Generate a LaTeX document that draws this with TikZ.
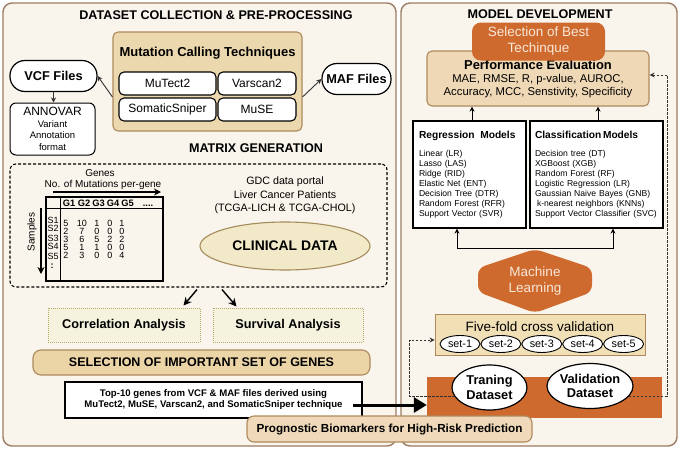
\documentclass[tikz,border=0pt]{standalone}
\usepackage{fontspec}
\setmainfont{Liberation Sans}
\usetikzlibrary{positioning,shapes.geometric,arrows.meta}
\definecolor{panelfill}{HTML}{FAF5EC}
\definecolor{panelline}{HTML}{9C7C64}
\definecolor{tanfill}{HTML}{EBD8AE}
\definecolor{tanline}{HTML}{AD8A5E}
\definecolor{pefill}{HTML}{EFD8B6}
\definecolor{selfill}{HTML}{EBD4A6}
\definecolor{cvfill}{HTML}{F1DFB6}
\definecolor{progfill}{HTML}{EFD9BA}
\definecolor{mlorange}{HTML}{CF6A2E}
\definecolor{mltext}{HTML}{F8E8D8}
\definecolor{anafill}{HTML}{F5F2DE}
\definecolor{analine}{HTML}{B4AA6A}
\definecolor{clinfill}{HTML}{F1E9C7}
\definecolor{clinline}{HTML}{A68B5B}
\definecolor{inkgray}{HTML}{333333}
\newcommand\fsz[2]{\fontsize{#1}{#2}\selectfont}

\begin{document}
\begin{tikzpicture}[x=1pt, y=-1pt, node distance=0pt]
  \tikzstyle{panel} = [draw=panelline, fill=panelfill, line width=1.4pt, rounded corners=9pt]
  \tikzstyle{headline} = [font=\fsz{12.6}{15}\bfseries, inner sep=0pt]
  \tikzstyle{tool} = [draw, line width=1.1pt, fill=white, rounded corners=5pt, minimum height=23pt, inner sep=0pt, font=\fsz{12}{14}]
  \tikzstyle{filepill} = [draw, line width=1.2pt, fill=white, rounded corners=15pt, minimum height=31pt, inner sep=0pt, font=\fsz{12.8}{15}\bfseries]
  \tikzstyle{anabox} = [draw=analine, fill=anafill, line width=1pt, dash pattern=on 1pt off 1pt, minimum width=152pt, minimum height=34pt, font=\fsz{12.7}{15}\bfseries]
  \tikzstyle{tanbar} = [draw=tanline, line width=1.1pt, rounded corners=8pt, inner sep=0pt]
  \tikzstyle{modelbox} = [draw, line width=1.2pt, fill=white, align=left, inner ysep=0pt, minimum height=107pt, font=\fsz{8.6}{10}]
  \tikzstyle{setoval} = [ellipse, draw, line width=0.9pt, fill=white, minimum width=40pt, minimum height=17pt, inner sep=0pt, font=\fsz{10.8}{12}]
  \tikzstyle{dataoval} = [ellipse, draw, line width=1.2pt, fill=white, inner sep=0pt, minimum height=45pt, align=center, font=\fsz{12.8}{14.5}\bfseries]
  \tikzstyle{cell} = [inner sep=0pt, font=\fsz{9}{10}]
  \tikzstyle{link} = [draw=inkgray, line width=0.9pt, -{Stealth[length=5pt,width=5pt]}]
  \tikzstyle{bigarrow} = [line width=1.4pt, -{Stealth[length=8pt,width=8pt]}]
  \tikzstyle{dashlink} = [draw=inkgray, line width=0.9pt, dash pattern=on 2.5pt off 1.5pt, -{Stealth[length=5pt,width=5pt]}]

  \useasboundingbox (0,0) rectangle (680,450);
  \draw[panel] (3,3) rectangle (396,446);
  \draw[panel] (401,3) rectangle (677,446);

  \node[headline] (dctitle) at (216,15) {DATASET COLLECTION \& PRE-PROCESSING};
  \node[headline] (mdtitle) at (540,14) {MODEL DEVELOPMENT};
  \node[headline] (mgtitle) at (256,148) {MATRIX GENERATION};

  \node[tanbar, fill=tanfill, rounded corners=5pt, minimum width=189pt, minimum height=99pt] (mutbox) at (207.5,81.5) {};
  \node[inner sep=0pt, font=\fsz{13}{15}\bfseries] (mutttl) at (207.5,53) {Mutation Calling Techniques};
  \node[tool, minimum width=97pt] (mutect) at (167.5,83.5) {MuTect2};
  \node[tool, minimum width=78pt] (varscan) at (257,83.5) {Varscan2};
  \node[tool, minimum width=97pt] (sniper) at (167.5,109.5) {SomaticSniper};
  \node[tool, minimum width=78pt] (muse) at (257,109.5) {MuSE};

  \node[filepill, minimum width=87pt] (vcf) at (53.5,76) {VCF Files};
  \node[filepill, minimum width=69pt] (maf) at (356.5,79) {MAF Files};
  \node[draw, line width=1pt, fill=white, rounded corners=6pt, align=center, inner sep=0pt, minimum width=85pt, minimum height=52pt, font=\fsz{9.5}{11.5}] (annovar) at (52.5,129) {{\fsz{12}{14}ANNOVAR}\\Variant\\Annotation\\format};
  \draw[link] ([yshift=-15.5pt]mutbox.west) -- (vcf.east);
  \draw[link] ([yshift=-15.5pt]mutbox.east) -- (maf.west);
  \draw[link] (vcf.south) -- (vcf.south |- annovar.north);

  \node[draw, line width=1.1pt, dash pattern=on 3pt off 2pt, rounded corners=6pt, minimum width=377pt, minimum height=123pt] (mgen) at (198.5,225.5) {};
  \node[cell, font=\fsz{10}{12}] (genes) at (100,173) {Genes};
  \node[cell, font=\fsz{10}{12}] (permut) at (103,185) {No. of Mutations per-gene};
  \coordinate (gstart) at (53,192);
  \coordinate (gend) at (161,192);
  \draw[bigarrow, line width=1.2pt, -{Stealth[length=7pt,width=7pt]}] (gstart) -- (gend);
  \coordinate (sstart) at (41,208);
  \coordinate (send) at (41,274);
  \draw[bigarrow, line width=1.2pt, -{Stealth[length=7pt,width=7pt]}] (sstart) -- (send);
  \node[cell, font=\fsz{10}{12}, rotate=90] (samples) at (32,232) {Samples};
  \node[draw, line width=1.3pt, minimum width=117pt, minimum height=84pt, inner sep=0pt] (tbl) at (104.5,239) {};
  \draw[line width=1.3pt] ([yshift=-12pt]tbl.north west) -- ([yshift=-12pt]tbl.north east);
  \draw[line width=1.3pt] ([xshift=15pt]tbl.north west) -- ([xshift=15pt]tbl.south west);
  \foreach \g/\xx in {G1/69,G2/84,G3/98.5,G4/113,G5/127.5}
    \node[cell, anchor=base, font=\fsz{9.3}{11}\bfseries] (\g) at (\xx,206.5) {\g};
  \node[cell, anchor=base, font=\fsz{9.3}{11}\bfseries] (gdots) at (148,206.5) {....};
  \foreach \lab/\yy in {S1/220,S2/228.5,S3/238,S4/246,S5/256}
    \node[cell, anchor=west] (\lab) at (47.5,\yy) {\lab};
  \node[cell, font=\fsz{9}{10}\bfseries] (sdots) at (52,266) {:};
  \foreach \yy/\va/\vb/\vc/\vd/\ve [count=\r] in {223/5/10/1/0/1, 231/2/7/0/0/0, 239/3/6/5/2/2, 247/5/1/1/0/0, 255/2/3/0/0/4} {
    \node[cell] (v\r a) at (66,\yy) {\va};
    \node[cell] (v\r b) at (82,\yy) {\vb};
    \node[cell] (v\r c) at (97,\yy) {\vc};
    \node[cell] (v\r d) at (110,\yy) {\vd};
    \node[cell] (v\r e) at (122,\yy) {\ve};
  }
  \node[align=center, inner sep=0pt, font=\fsz{10.7}{13.5}] (gdc) at (285,195.5) {GDC data portal\\Liver Cancer Patients\\(TCGA-LICH \& TCGA-CHOL)};
  \node[ellipse, draw=clinline, fill=clinfill, line width=1.1pt, minimum width=170pt, minimum height=48pt, inner sep=0pt, font=\fsz{13.9}{16}\bfseries] (clin) at (285,246) {CLINICAL DATA};

  \node[anabox] (corr) at (124,325) {Correlation Analysis};
  \node[anabox, minimum width=150pt] (surv) at (288,325) {Survival Analysis};
  \draw[bigarrow] ([xshift=-1.5pt,yshift=-2pt]mgen.south) -- ([xshift=-17pt,yshift=2pt]corr.north east);
  \draw[bigarrow] ([xshift=23.5pt,yshift=-2pt]mgen.south) -- ([xshift=24pt,yshift=1pt]surv.north west);

  \node[tanbar, fill=selfill, minimum width=337pt, minimum height=25pt, font=\fsz{12.5}{15}\bfseries] (selgenes) at (201.5,362.5) {SELECTION OF IMPORTANT SET OF GENES};
  \node[draw, line width=1.1pt, fill=white, minimum width=297pt, minimum height=36pt, inner sep=0pt, align=center, font=\fsz{9.6}{11}\bfseries] (top10) at (213.5,400) {Top-10 genes from VCF \& MAF files derived using\\MuTect2, MuSE, Varscan2, and SomaticSniper technique};

  \node[tanbar, fill=pefill, rounded corners=5pt, minimum width=222pt, minimum height=55pt, align=center, font=\fsz{11.3}{13}] (pe) at (538,78.5) {{\fsz{12.9}{15}\bfseries Performance Evaluation}\\MAE, RMSE, R, p-value, AUROC,\\Accuracy, MCC, Senstivity, Specificity};
  \node[fill=mlorange, rounded corners=9pt, minimum width=133pt, minimum height=38pt, inner sep=0pt, align=center, text=mltext, font=\fsz{13.5}{16}] (best) at (538.5,41.5) {Selection of Best\\Techinque};

  \node[modelbox, minimum width=113pt, text width=101pt, inner xsep=6pt] (reg) at (469.5,174.5) {{\fsz{10.2}{12}\bfseries Regression\ \ Models}\\[8pt]Linear (LR)\\Lasso (LAS)\\Ridge (RID)\\Elastic Net (ENT)\\Decision Tree (DTR)\\Random Forest (RFR)\\Support Vector (SVR)};
  \node[modelbox, minimum width=133pt, text width=123pt, inner xsep=5pt] (cls) at (596.5,174.5) {{\fsz{10.2}{12}\bfseries Classification\,Models}\\[8pt]Decision tree (DT)\\XGBoost (XGB)\\Random Forest (RF)\\Logistic Regression (LR)\\Gaussian Naive Bayes (GNB)\\\hspace*{2pt}k-nearest neighbors (KNNs)\\Support Vector Classifier (SVC)};
  \draw[link, draw=black] ([xshift=2.5pt]reg.north) -- ([xshift=2.5pt]reg.north |- pe.south);
  \draw[link, draw=black] ([xshift=1.5pt]cls.north) -- ([xshift=1.5pt]cls.north |- pe.south);

  \fill[mlorange, rounded corners=7pt] (478,292) -- (478,268) -- (535,249) -- (592,268) -- (592,292) -- (535,313) -- cycle;
  \node[align=center, inner sep=0pt, text=mltext, font=\fsz{13.5}{15.5}] (ml) at (535,281) {Machine\\Learning};
  \coordinate (mltop) at (535,248);
  \draw[link, draw=black] (mltop) -| ([xshift=-12.5pt]reg.south);
  \draw[link, draw=black] (mltop) -| ([xshift=16.5pt]cls.south);

  \node[draw=tanline, fill=cvfill, line width=0.8pt, minimum width=210pt, minimum height=41pt, inner sep=0pt] (cv) at (540,334.5) {};
  \node[inner sep=0pt, font=\fsz{13.5}{15}] (cvtext) at (540,327) {Five-fold cross validation};
  \node[setoval] (s1) at (460,344) {set-1};
  \node[setoval, right=of s1] (s2) {set-2};
  \node[setoval, right=of s2] (s3) {set-3};
  \node[setoval, right=of s3] (s4) {set-4};
  \node[setoval, right=of s4] (s5) {set-5};

  \node[fill=mlorange, minimum width=235pt, minimum height=41pt, inner sep=0pt] (dset) at (544.5,397.5) {};
  \node[dataoval, minimum width=75pt] (train) at (489.5,387.5) {Traning\\Dataset};
  \node[dataoval, minimum width=86pt] (valid) at (590,386) {Validation\\Dataset};
  \draw[dashlink] (train.195) -- ++(-45,0) |- ([yshift=-5.5pt]cv.west);
  \draw[dashlink] (valid.345) -- ++(38.5,0) |- ([yshift=3.5pt]pe.east);

  \draw[line width=3pt, -{Triangle[length=13pt,width=15pt]}] ([xshift=-10pt,yshift=-5pt]top10.east) -- ([yshift=-7.5pt]dset.west);
  \node[tanbar, fill=progfill, rounded corners=7pt, minimum width=285pt, minimum height=26pt, font=\fsz{11.7}{14}\bfseries] (progno) at (389.5,429) {Prognostic Biomarkers for High-Risk Prediction};
\end{tikzpicture}
\end{document}
